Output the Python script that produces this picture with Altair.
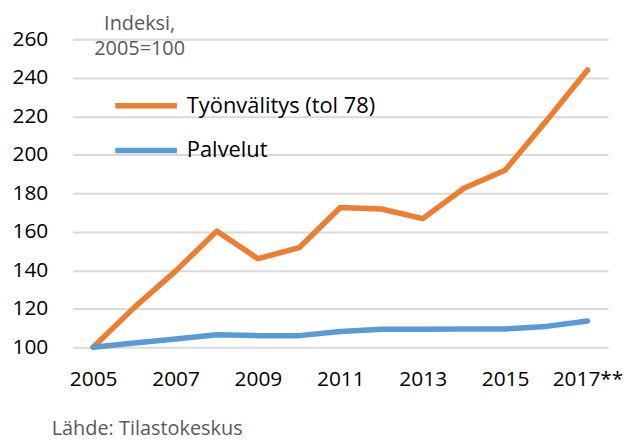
import altair as alt
import pandas as pd

years = ["2005", "2006", "2007", "2008", "2009", "2010", "2011",
         "2012", "2013", "2014", "2015", "2016", "2017**"]
shown_labels = ["2005", "2007", "2009", "2011", "2013", "2015", "2017**"]
series_names = ["Työnvälitys (tol 78)", "Palvelut"]
tyonvalitys = [100, 120.7, 139.5, 160.3, 146, 151.7, 172.6,
               171.8, 166.8, 182.6, 191.9, 217.5, 244]
palvelut = [100, 102.2, 104.3, 106.5, 106, 106, 108.2,
            109.3, 109.3, 109.4, 109.5, 110.8, 113.6]
y_ticks = [100, 120, 140, 160, 180, 200, 220, 240, 260]
colors = ["#ED7D31", "#5B9BD5"]
y_title = ["Indeksi,", "2005=100"]
source_text = "Lähde: Tilastokeskus"

rows = []
for name, vals in zip(series_names, [tyonvalitys, palvelut]):
    for i, (yr, v) in enumerate(zip(years, vals)):
        rows.append({"year": yr, "value": v, "series": name, "order": i})
df = pd.DataFrame(rows)

FONT = "Open Sans"
label_expr = "indexof(" + str(shown_labels) + ", datum.value) >= 0 ? datum.value : ''"

chart = alt.Chart(df).mark_line(strokeWidth=5.5, strokeCap="round", strokeJoin="round").encode(
    x=alt.X("year:N", sort=years,
            scale=alt.Scale(type="point", padding=0.5),
            axis=alt.Axis(title=None, labelExpr=label_expr, labelAngle=0,
                          domain=False, ticks=False, grid=False,
                          labelFontSize=21, labelColor="#000000", labelPadding=22,
                          labelFont=FONT, labelOverlap=False, labelBound=False)),
    y=alt.Y("value:Q",
            scale=alt.Scale(domain=[100, 260], nice=False, zero=False),
            axis=alt.Axis(values=y_ticks, title=y_title,
                          titleAngle=0, titleAlign="center", titleBaseline="top",
                          titleX=67, titleY=-25.5, titleFontSize=20, titleFontWeight="normal",
                          titleColor="#595959", titleFont=FONT, titleLineHeight=25.3,
                          domain=False, ticks=False, labelFontSize=21,
                          labelColor="#000000", labelPadding=25, labelFont=FONT,
                          gridColor="#d9d9d9", gridWidth=2)),
    color=alt.Color("series:N", sort=series_names,
                    scale=alt.Scale(domain=series_names, range=colors),
                    legend=alt.Legend(title=None, orient="none", legendX=40, legendY=33,
                                      symbolType="stroke", symbolSize=3844,
                                      symbolStrokeWidth=5.5, labelFontSize=22,
                                      labelFont=FONT, labelColor="#000000",
                                      labelOffset=7, rowPadding=0, labelLimit=500)),
    order="order:Q",
).properties(
    width=539, height=310,
    padding={"left": 65, "top": 30, "right": 16, "bottom": 92},
    autosize=alt.AutoSizeParams(type="none"),
    title=alt.TitleParams(source_text, orient="bottom", anchor="start",
                          frame="group", dx=-21, offset=45, fontSize=20,
                          baseline="alphabetic",
                          fontWeight="normal", color="#595959", font=FONT),
).configure_view(stroke=None)

chart.save("out.html", embed_options={"renderer": "svg", "actions": False})
